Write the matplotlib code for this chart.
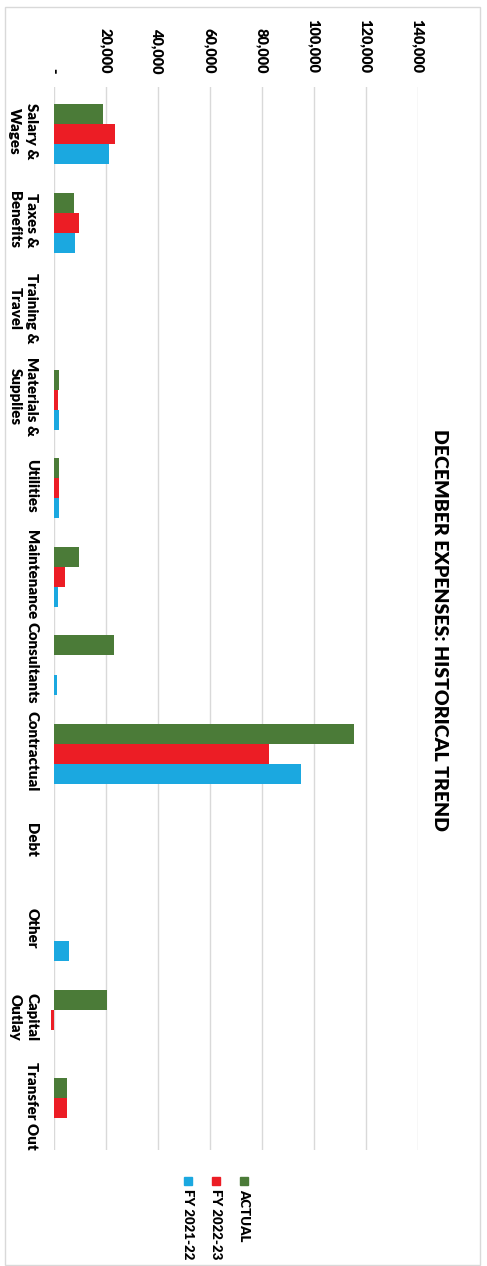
import matplotlib
matplotlib.use("Agg")
import matplotlib.pyplot as plt
import numpy as np
from matplotlib.patches import Rectangle

plt.rcParams['font.family'] = ['Lato', 'DejaVu Sans']
FW = 800

categories = ["Salary &\nWages", "Taxes &\nBenefits", "Training &\nTravel",
              "Materials &\nSupplies", "Utilities", "Maintenance", "Consultants",
              "Contractual", "Debt", "Other", "Capital\nOutlay", "Transfer Out"]
actual = [19150, 7900, 0, 2250, 2250, 9900, 23400, 115700, 0, 0, 20700, 5300]
fy2223 = [23800, 9900, 0, 1700, 2250, 4300, 0, 82900, 0, 0, -850, 5300]
fy2122 = [21200, 8400, 0, 2250, 2250, 1700, 1200, 95200, 0, 5800, 0, 0]
series_names = ["ACTUAL", "FY 2022-23", "FY 2021-22"]
series_colors = ["#4B7B38", "#EC1D25", "#1BA8E0"]
tick_values = [0, 20000, 40000, 60000, 80000, 100000, 120000, 140000]
tick_labels = ["-", "20,000", "40,000", "60,000", "80,000", "100,000", "120,000", "140,000"]
title = "DECEMBER EXPENSES: HISTORICAL TREND"

W, H = 487, 1266
fig = plt.figure(figsize=(W / 100, H / 100), dpi=100)
fig.patch.set_facecolor("white")

# outer chart frame
fig.patches.append(Rectangle((5 / W, 1 - 1265 / H), (480 - 5) / W, (1265 - 7) / H,
                             transform=fig.transFigure, fill=False,
                             edgecolor="#d9d9d9", linewidth=1))

x0, x1, y0, y1 = 53.5, 417.5, 87, 1150
ax = fig.add_axes([x0 / W, 1 - y1 / H, (x1 - x0) / W, (y1 - y0) / H])

pos = np.arange(len(categories))
bw = 0.226
for i, (vals, col) in enumerate(zip([actual, fy2223, fy2122], series_colors)):
    ax.barh(pos + (i - 1) * bw + 0.03, vals, height=bw, color=col, clip_on=False, zorder=3)

ax.set_xlim(0, 140000)
ax.set_ylim(len(categories) - 0.5, -0.5)
ax.set_xticks(tick_values)
ax.xaxis.tick_top()
ax.set_xticklabels(tick_labels, rotation=-90, fontsize=10.5, fontweight=FW)
ax.tick_params(axis="x", length=0, pad=10)
ax.set_yticks(pos)
ax.set_yticklabels(categories, rotation=-90, fontsize=10.8, fontweight=FW,
                   ha="right", va="center", multialignment="center",
                   linespacing=1.35)
ax.tick_params(axis="y", length=0, pad=11)
ax.grid(axis="x", color="#d9d9d9", linewidth=1, zorder=0)
for s in ax.spines.values():
    s.set_visible(False)

fig.text(439 / W, 1 - 630 / H, title, rotation=-90, ha="center", va="center",
         fontsize=14, fontweight=FW)

# legend (rotated)
for i, (name, col) in enumerate(zip(series_names, series_colors)):
    xc = 244 - 28 * i
    fig.patches.append(Rectangle(((xc - 4) / W, 1 - 1185 / H), 8 / W, 8 / H,
                                 transform=fig.transFigure, color=col))
    fig.text(xc / W, 1 - 1189 / H, name, rotation=-90, ha="center", va="top",
             fontsize=9.5, fontweight=FW)

fig.savefig("out.png", dpi=100, facecolor="white")
